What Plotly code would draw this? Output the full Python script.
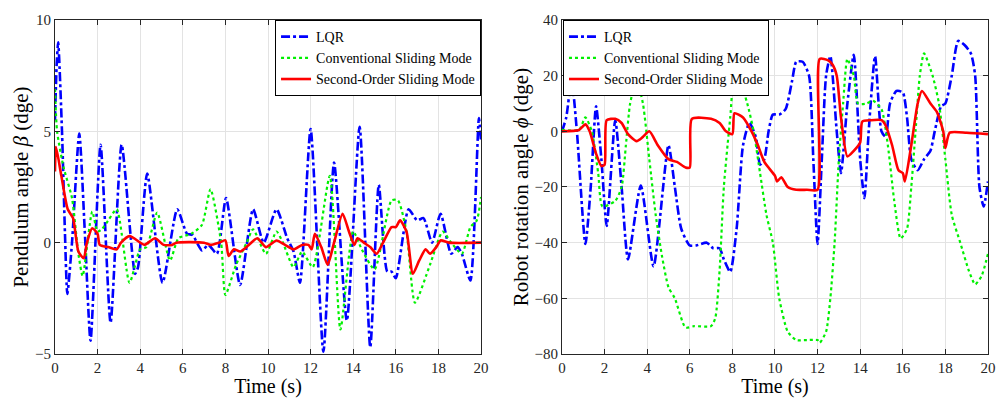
import plotly.graph_objects as go

# ---------------- Left: pendulum angle beta ----------------
t_lqr_b = [0, 0.08, 0.15, 0.33, 0.47, 0.58, 0.8, 1.14, 1.4, 1.67, 2.14, 2.61, 3.13, 3.76, 3.9, 4.33,
           5.05, 5.74, 6.2, 6.45, 6.9, 7.2, 7.6, 8.03, 8.69, 9.3, 9.8, 10.4, 10.9, 11.2, 11.5, 12.0,
           12.6, 13.1, 13.7, 14.3, 14.8, 15.2, 15.6, 15.8, 16.0, 16.6, 17.0, 17.3, 17.7, 18.1, 18.6,
           18.9, 19.1, 19.5, 19.9, 20.0]
v_lqr_b = [5.5, 8.0, 9.0, 5.0, 0.4, -2.3, 0.0, 4.9, 0.5, -4.4, 4.4, -3.6, 4.4, -1.4, -1.1, 3.1,
           -1.8, 1.5, 0.4, 0.35, -0.35, -0.1, -0.5, 2.0, -1.9, 1.5, 0.0, 1.5, 0.2, -0.4, -1.8, 5.1,
           -4.9, 3.6, -3.5, 5.2, -4.7, 2.6, -1.3, -1.3, -1.6, 1.5, 1.0, 1.1, 0.0, 1.3, -0.5,
           -0.2, -0.5, -1.7, 5.6, 4.5]

t_csm_b = [0, 0.1, 0.4, 0.8, 1.1, 1.3, 1.75, 2.0, 2.2, 2.5, 2.9, 3.5, 4.0, 4.3, 4.8, 5.4, 5.8, 6.4,
           6.9, 7.3, 7.8, 8.0, 8.5, 9.0, 9.3, 9.9, 10.4, 10.7, 11.2, 11.6, 12.1, 12.9, 13.4, 14.0,
           14.4, 15.0, 15.8, 16.1, 16.5, 16.9, 17.6, 18.2, 18.6, 19.1, 19.5, 19.8, 20.0]
v_csm_b = [6.9, 5.0, 3.4, 2.0, -0.5, -1.5, 1.4, 0.5, 0.6, 1.0, 1.5, -1.8, -0.3, -0.2, 1.35, -0.8,
           0.2, 0.4, 0.8, 2.4, 0.0, -2.35, -1.0, 0.0, 0.6, -0.5, 0.5, 0.0, -1.1, -0.4, -1.1, 3.0,
           -3.9, 0.5, -0.3, -1.2, 1.9, 1.9, 0.5, -2.7, -1.0, 0.5, 0.0, -0.5, 0.7, 1.0, 2.05]

t_sosm_b = [0, 0.05, 0.3, 0.6, 0.85, 1.1, 1.35, 1.5, 1.75, 2.0, 2.1, 2.5, 2.9, 3.1, 3.5, 4.0, 4.2,
            4.7, 5.1, 5.5, 5.7, 7.0, 7.3, 7.7, 8.0, 8.15, 8.4, 8.7, 9.1, 9.5, 9.9, 10.4, 10.8,
            11.2, 11.6, 11.9, 12.05, 12.2, 12.5, 12.8, 13.1, 13.5, 13.8, 14.05, 14.2, 14.5, 14.8,
            15.1, 15.4, 15.8, 16.0, 16.2, 16.5, 16.8, 17.1, 17.4, 17.6, 17.9, 18.1, 18.5, 20.0]
v_sosm_b = [3.2, 4.3, 3.0, 1.5, 1.1, -0.4, -0.7, 0.0, 0.65, 0.4, -0.1, -0.2, -0.3, 0.0, 0.3, 0.0,
            -0.1, 0.2, -0.1, -0.1, 0.0, 0.0, -0.1, 0.0, 0.1, -0.6, -0.3, -0.4, -0.1, 0.2, -0.2,
            0.1, -0.1, -0.3, -0.1, -0.1, -0.3, 0.4, -0.2, -1.0, 0.0, 1.3, 0.5, -0.1, 0.2, 0.0,
            -0.2, -0.5, 0.0, 0.7, 0.7, 1.0, 0.5, -1.4, -0.8, -0.3, -0.5, -0.2, 0.1, 0.0, 0.0]

# ---------------- Right: robot rotation angle phi ----------------
t_lqr_p = [0, 0.2, 0.45, 0.7, 1.1, 1.35, 1.6, 1.85, 2.1, 2.5, 2.8, 3.1, 3.7, 4.3, 5.0, 5.3, 5.6,
           6.0, 6.3, 6.8, 7.1, 7.4, 7.6, 7.9, 8.2, 8.5, 8.8, 9.1, 9.3, 9.5, 9.7, 9.9, 10.2, 10.5,
           10.8, 11.0, 11.3, 11.6, 11.8, 12.0, 12.2, 12.4, 12.6, 12.9, 13.1, 13.4, 13.7, 14.0,
           14.2, 14.4, 14.7, 15.0, 15.2, 15.4, 15.7, 16.0, 16.2, 16.4, 16.7, 17.0, 17.3, 17.5,
           17.8, 18.0, 18.3, 18.6, 18.9, 19.2, 19.4, 19.6, 19.8, 20.0]
v_lqr_p = [0, 5, 18.5, 0, -40.5, -20, 9, -10, -34, 4, -20, -46, -19.5, -48.5, -5, -20, -35,
           -41, -41, -40, -42, -42, -46, -50.5, -35, -5, 3, -2, -12, -10, 0, 6, 6, 8,
           18, 25, 25, 20, -10, -40.5, -10, 20, 27, 0, -15, 10, 27.5, -10,
           -24, 0, 27, 0, -2, 10, 14.5, 14, 5, -10, -14, -10, -7, 0,
           9, 10, 20, 32.5, 31, 28, 20, -20, -27, -18]

t_csm_p = [0, 0.8, 1.1, 1.4, 1.7, 1.9, 2.5, 2.8, 3.0, 3.2, 3.5, 3.8, 4.1, 4.4, 4.7, 5.0, 5.3,
           5.8, 6.2, 7.0, 7.2, 7.4, 7.6, 7.9, 8.1, 8.4, 8.7, 9.0, 9.3, 9.6, 9.9, 10.2, 10.6,
           11.0, 11.5, 12.0, 12.1, 12.4, 12.6, 12.8, 13.0, 13.2, 13.4, 13.7, 13.9, 14.3, 14.6,
           15.0, 15.3, 15.6, 15.9, 16.2, 16.4, 16.6, 16.8, 17.0, 17.4, 17.7, 18.0, 18.3, 18.7,
           19.1, 19.4, 19.7, 20.0]
v_csm_p = [0.5, 0.5, 5, 0, -15, -27, -25, -20, -5, 10, 18.5, 10, -10, -30, -45, -56, -60,
           -70.5, -70, -70, -67, -50, -20, 5, 19.5, 17, 10, 0, -15, -30, -40, -60, -72,
           -75, -75, -75, -76, -72, -60, -40, -10, 10, 26, 20, 10, 10, 11,
           8, -5, -25, -38.5, -35, -20, 0, 20, 28, 20, 10, -10, -30, -40,
           -50, -55, -52, -44]

t_sosm_p = [0, 0.8, 1.1, 1.3, 1.6, 1.85, 2.0, 2.1, 2.5, 2.8, 3.1, 3.5, 3.8, 4.1, 4.5, 5.0, 5.4,
            5.8, 6.0, 6.1, 7.0, 7.4, 7.7, 8.0, 8.1, 8.5, 8.9, 9.2, 9.5, 10.0, 10.1, 10.3, 10.6,
            11.0, 11.5, 12.0, 12.1, 12.5, 12.7, 12.9, 13.1, 13.4, 13.7, 14.0, 14.1, 14.5, 15.0,
            15.2, 15.5, 15.8, 16.0, 16.1, 16.4, 16.7, 16.9, 17.3, 17.6, 17.9, 18.0, 18.2, 19.0,
            20.0]
v_sosm_p = [0, 0.5, 2.5, 0, -8, -12.5, -12, 4, 4.5, 3, -1, -3.5, -2, 0, -5, -10, -11,
            -13, -13, 4.5, 4.5, 3, 0, -1, 6.5, 5, 0, -5, -11, -16, -18, -16.5, -20,
            -21, -21, -21, 26, 25.5, 24, 20, 5, -9, -7, -4, 3.5, 4, 4,
            2, -5, -14, -15, -18, -5, 10, 14.5, 10, 7, 0, -6, -0.5, -0.5,
            -1]

x_ticks = [0, 2, 4, 6, 8, 10, 12, 14, 16, 18, 20]
beta_ticks = [-5, 0, 5, 10]
phi_ticks = [-80, -60, -40, -20, 0, 20, 40]
names = ["LQR", "Conventional Sliding Mode", "Second-Order Sliding Mode"]

FONT = "Liberation Serif, Times New Roman, serif"
styles = [dict(color="#0000ff", width=2.6, dash="dashdot"),
          dict(color="#00f000", width=2.2, dash="dot"),
          dict(color="#ff0000", width=2.6, dash="solid")]
shapes_ = ["spline", "spline", "spline"]

fig = go.Figure()
left = [(t_lqr_b, v_lqr_b), (t_csm_b, v_csm_b), (t_sosm_b, v_sosm_b)]
right = [(t_lqr_p, v_lqr_p), (t_csm_p, v_csm_p), (t_sosm_p, v_sosm_p)]
for i, (tx, vy) in enumerate(left):
    fig.add_trace(go.Scatter(x=tx, y=vy, mode="lines", name=names[i],
                             line=dict(**styles[i], shape=shapes_[i], smoothing=0.6),
                             xaxis="x", yaxis="y", legend="legend"))
for i, (tx, vy) in enumerate(right):
    fig.add_trace(go.Scatter(x=tx, y=vy, mode="lines", name=names[i],
                             line=dict(**styles[i], shape=shapes_[i], smoothing=0.6),
                             xaxis="x2", yaxis="y2", legend="legend2"))

axis_common = dict(showline=True, linecolor="#262626", linewidth=1, mirror="allticks",
                   ticks="inside", ticklen=5, tickcolor="#262626", automargin=False,
                   showgrid=True, gridcolor="#e3e3e3", gridwidth=1, zeroline=False,
                   tickfont=dict(family=FONT, size=15, color="#262626"))

ydom = [0.1106, 0.9497]
LEG_FONT = dict(family=FONT, size=14, color="#000")
fig.update_layout(
    template="none",
    width=1003, height=398, margin=dict(l=0, r=0, t=0, b=0, pad=0),
    paper_bgcolor="white", plot_bgcolor="white",
    font=dict(family=FONT, color="#000000"),
    xaxis=dict(domain=[0.0548, 0.4796], range=[0, 20], tickvals=x_ticks, anchor="y",
               title=dict(text="Time (s)", font=dict(family=FONT, size=20), standoff=4),
               **axis_common),
    yaxis=dict(domain=ydom, range=[-5, 10], tickvals=beta_ticks, anchor="x",
               title=dict(text="Pendulum angle <i>β</i> (dge)", font=dict(family=FONT, size=21),
                          standoff=0),
               **axis_common),
    xaxis2=dict(domain=[0.5603, 0.985], range=[0, 20], tickvals=x_ticks, anchor="y2",
                title=dict(text="Time (s)", font=dict(family=FONT, size=20), standoff=4),
                **axis_common),
    yaxis2=dict(domain=ydom, range=[-80, 40], tickvals=phi_ticks, anchor="x2",
                title=dict(text="Robot rotation angle <i>ϕ</i> (dge)", font=dict(family=FONT, size=21),
                           standoff=0),
                **axis_common),
    legend=dict(x=0.4796, y=0.9497, xanchor="right", yanchor="top",
                bgcolor="white", bordercolor="#000000", borderwidth=1,
                font=LEG_FONT, tracegroupgap=0, itemwidth=30),
    legend2=dict(x=0.5613, y=0.9497, xanchor="left", yanchor="top",
                 bgcolor="white", bordercolor="#000000", borderwidth=1,
                 font=LEG_FONT, tracegroupgap=0, itemwidth=30),
    showlegend=True,
)

fig.write_html("out.html")
